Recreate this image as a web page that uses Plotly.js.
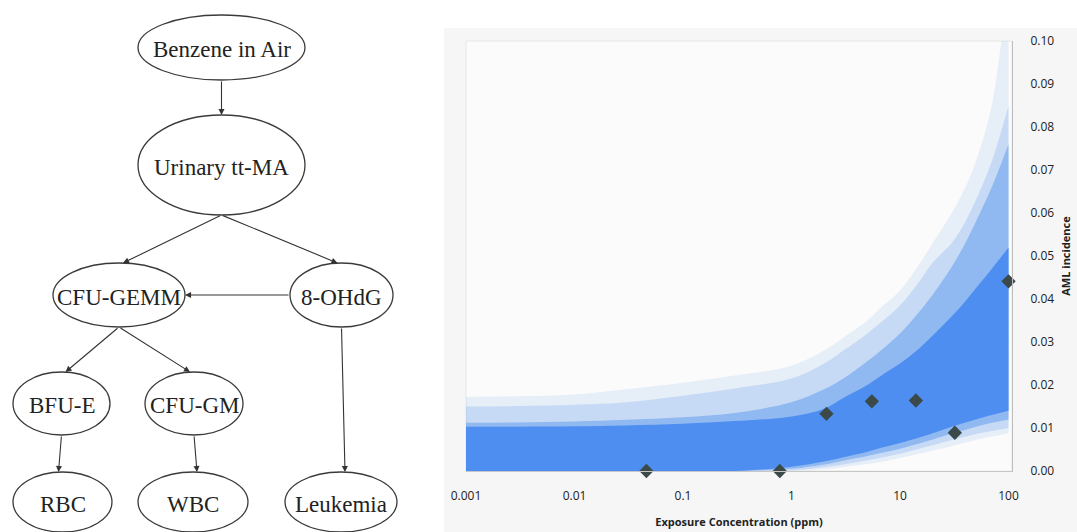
<!DOCTYPE html>
<html><head><meta charset="utf-8">
<script src="https://cdn.plot.ly/plotly-3.0.1.min.js"></script>
<style>html,body{margin:0;padding:0;background:#fff;}#chart{width:1077px;height:532px;}</style>
</head><body><div id="chart"></div>
<script>
// ---------- DATA ----------
// exposure grid (ppm) at which the envelope of the simulated dose-response curves was read
const exposurePpm   = [0.001, 0.003, 0.01, 0.03, 0.1, 0.3, 1, 2, 3, 5, 7, 10, 15, 20, 30, 40, 50, 70, 100];
// faintest envelope of the curves
const outerLow  = [0, 0, 0, 0, 0, 0, 0, 0.0004, 0.0009, 0.0016, 0.0022, 0.0030, 0.0040, 0.0047, 0.0058, 0.0066, 0.0072, 0.0080, 0.0088];
const outerHigh = [0.0172, 0.0174, 0.0178, 0.0190, 0.0205, 0.0222, 0.0245, 0.0280, 0.0310, 0.0350, 0.0385, 0.0420, 0.0480, 0.0530, 0.0600, 0.0660, 0.0720, 0.0850, 0.1150];
// light envelope
const lightLow  = [0, 0, 0, 0, 0, 0, 0.0002, 0.0009, 0.0015, 0.0025, 0.0032, 0.0040, 0.0052, 0.0060, 0.0072, 0.0080, 0.0086, 0.0093, 0.0100];
const lightHigh = [0.0150, 0.0151, 0.0154, 0.0160, 0.0175, 0.0192, 0.0215, 0.0250, 0.0280, 0.0320, 0.0350, 0.0385, 0.0440, 0.0485, 0.0530, 0.0580, 0.0630, 0.0720, 0.0850];
// medium envelope
const midLow    = [0, 0, 0, 0, 0, 0, 0.0005, 0.0015, 0.0024, 0.0035, 0.0043, 0.0052, 0.0064, 0.0073, 0.0087, 0.0096, 0.0103, 0.0112, 0.0120];
const midHigh   = [0.0112, 0.0113, 0.0115, 0.0119, 0.0125, 0.0135, 0.0160, 0.0190, 0.0215, 0.0255, 0.0285, 0.0320, 0.0370, 0.0410, 0.0475, 0.0530, 0.0580, 0.0660, 0.0760];
// dense core of the curves
const coreLow   = [0, 0, 0, 0, 0, 0, 0.0010, 0.0022, 0.0032, 0.0045, 0.0055, 0.0065, 0.0078, 0.0088, 0.0103, 0.0113, 0.0120, 0.0130, 0.0140];
const coreHigh  = [0.0103, 0.0103, 0.0104, 0.0106, 0.0110, 0.0116, 0.0127, 0.0145, 0.0170, 0.0200, 0.0225, 0.0250, 0.0285, 0.0315, 0.0360, 0.0395, 0.0425, 0.0470, 0.0520];

// observed points (diamonds)
const observedPpm       = [0.046, 0.78, 2.1, 5.5, 14, 32, 100];
const observedIncidence = [0.0, 0.0, 0.0133, 0.0162, 0.0164, 0.0089, 0.0441];

const xTickVals = [0.001, 0.01, 0.1, 1, 10, 100];
const xTickText = ['0.001', '0.01', '0.1', '1', '10', '100'];

// network diagram
const nodeLabels = ['Benzene in Air', 'Urinary tt-MA', 'CFU-GEMM', '8-OHdG', 'BFU-E', 'CFU-GM', 'RBC', 'WBC', 'Leukemia'];
const edgeFrom   = ['Benzene in Air', 'Urinary tt-MA', 'Urinary tt-MA', '8-OHdG', 'CFU-GEMM', 'CFU-GEMM', 'BFU-E', 'CFU-GM', '8-OHdG'];
const edgeTo     = ['Urinary tt-MA', 'CFU-GEMM', '8-OHdG', 'CFU-GEMM', 'BFU-E', 'CFU-GM', 'RBC', 'WBC', 'Leukemia'];

// ---------- LAYOUT (positions of diagram nodes, in pixels) ----------
const nodePos = {
  'Benzene in Air': {cx: 221.5, cy: 47.5, rx: 83.5, ry: 32.5},
  'Urinary tt-MA':  {cx: 221.5, cy: 165,  rx: 83.5, ry: 50},
  'CFU-GEMM':       {cx: 119,   cy: 295,  rx: 66,   ry: 32},
  '8-OHdG':         {cx: 341.5, cy: 295,  rx: 51.5, ry: 32},
  'BFU-E':          {cx: 61.5,  cy: 403.5,rx: 48.5, ry: 31.5},
  'CFU-GM':         {cx: 194,   cy: 403.5,rx: 49,   ry: 31.5},
  'RBC':            {cx: 62.5,  cy: 502,  rx: 49.5, ry: 30},
  'WBC':            {cx: 193,   cy: 502,  rx: 55,   ry: 30},
  'Leukemia':       {cx: 341,   cy: 502,  rx: 56,   ry: 30}
};

const W = 1077, H = 532;
const px = v => v / W, py = v => 1 - v / H;

const traces = [];
const bands = [
  [outerLow, outerHigh, 'rgba(95,155,235,0.13)'],
  [lightLow, lightHigh, 'rgba(85,148,236,0.22)'],
  [midLow, midHigh, 'rgba(78,142,238,0.45)'],
  [coreLow, coreHigh, 'rgba(72,139,240,0.93)']
];
bands.forEach(b => {
  traces.push({x: exposurePpm, y: b[0], type: 'scatter', mode: 'lines', line: {width: 0, shape: 'spline'}, hoverinfo: 'skip', showlegend: false, xaxis: 'x', yaxis: 'y'});
  traces.push({x: exposurePpm, y: b[1], type: 'scatter', mode: 'lines', fill: 'tonexty', fillcolor: b[2], line: {width: 0, shape: 'spline'}, hoverinfo: 'skip', showlegend: false, xaxis: 'x', yaxis: 'y'});
});
traces.push({x: observedPpm, y: observedIncidence, type: 'scatter', mode: 'markers', cliponaxis: false,
  marker: {symbol: 'diamond', size: 11, color: '#3c4949'}, showlegend: false, xaxis: 'x', yaxis: 'y'});

const shapes = [
  {type: 'rect', xref: 'paper', yref: 'paper', x0: px(444), x1: 1, y0: 0, y1: py(28), fillcolor: '#f6f6f6', line: {width: 0}, layer: 'below'},
  {type: 'rect', xref: 'paper', yref: 'paper', x0: px(466), x1: px(1012), y0: py(471), y1: py(41), fillcolor: '#fbfbfb', line: {width: 1, color: '#e8e8e8'}, layer: 'below'}
];
const annotations = [];

nodeLabels.forEach(n => {
  const p = nodePos[n];
  shapes.push({type: 'circle', xref: 'x2', yref: 'y2', x0: p.cx - p.rx, x1: p.cx + p.rx, y0: p.cy - p.ry, y1: p.cy + p.ry,
    line: {color: '#3a3a3a', width: 1.3}, fillcolor: 'rgba(0,0,0,0)'});
  annotations.push({xref: 'x2', yref: 'y2', x: p.cx, y: p.cy + 2, text: n, showarrow: false,
    font: {family: 'Liberation Serif, Times New Roman, serif', size: 23, color: '#222'}, xanchor: 'center', yanchor: 'middle'});
});

edgeFrom.forEach((f, i) => {
  const s = nodePos[f], t = nodePos[edgeTo[i]];
  let tx, ty, hx, hy;
  if (Math.abs(t.cy - s.cy) < 5) {
    const dir = Math.sign(t.cx - s.cx);
    tx = s.cx + dir * s.rx; ty = s.cy;
    hx = t.cx - dir * t.rx; hy = t.cy;
  } else {
    tx = s.cx; ty = s.cy + s.ry;
    hx = t.cx + Math.sign(s.cx - t.cx) * 4; hy = t.cy - t.ry;
  }
  annotations.push({xref: 'x2', yref: 'y2', axref: 'x2', ayref: 'y2', x: hx, y: hy, ax: tx, ay: ty, text: '',
    showarrow: true, arrowhead: 2, arrowsize: 1.1, arrowwidth: 1.1, arrowcolor: '#333', standoff: 0, startstandoff: 0});
});

const tickFont = {family: 'Open Sans, sans-serif', size: 12, color: '#222'};
const layout = {
  width: W, height: H,
  margin: {l: 0, r: 0, t: 0, b: 0},
  paper_bgcolor: '#ffffff', plot_bgcolor: 'rgba(0,0,0,0)',
  showlegend: false,
  xaxis: {type: 'log', domain: [px(466), px(1012)], range: [-3, 2.032], anchor: 'y',
    tickvals: xTickVals, ticktext: xTickText, ticks: 'outside', ticklen: 14, tickcolor: 'rgba(0,0,0,0)',
    showgrid: false, zeroline: false, showline: true, linecolor: '#c6c6c6', linewidth: 1,
    tickfont: tickFont,
    title: {text: '<b>Exposure Concentration (ppm)</b>', font: {family: 'Open Sans, sans-serif', size: 11, color: '#222'}, standoff: 14}},
  yaxis: {domain: [py(471), py(41)], range: [0, 0.1], anchor: 'x', side: 'right',
    dtick: 0.01, tick0: 0, tickformat: '.2f', ticks: 'outside', ticklen: 15, tickcolor: 'rgba(0,0,0,0)',
    showgrid: false, zeroline: false, showline: true, linecolor: '#bdbdbd', linewidth: 1,
    tickfont: tickFont,
    title: {text: '<b>AML incidence</b>', font: {family: 'Open Sans, sans-serif', size: 11, color: '#222'}, standoff: 9}},
  xaxis2: {domain: [0, px(430)], range: [0, 430], anchor: 'y2', visible: false, fixedrange: true},
  yaxis2: {domain: [0, 1], range: [532, 0], anchor: 'x2', visible: false, fixedrange: true},
  shapes: shapes,
  annotations: annotations
};

Plotly.newPlot('chart', traces, layout, {staticPlot: true, displayModeBar: false});
</script>
</body></html>
